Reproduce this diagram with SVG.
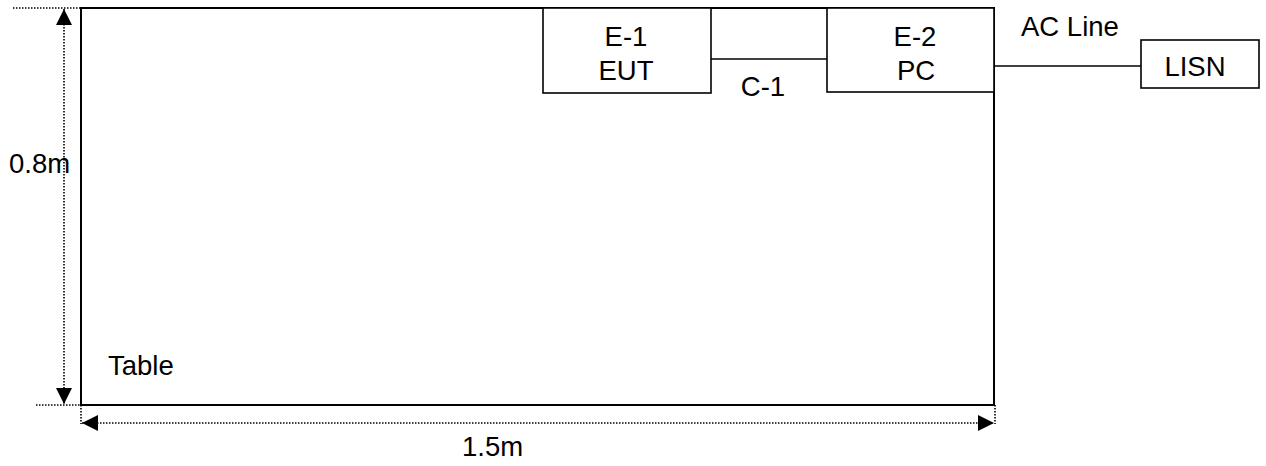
<svg xmlns="http://www.w3.org/2000/svg" width="1266" height="466" viewBox="0 0 1266 466">
<style>
text{font-family:"Liberation Sans",Arial,sans-serif;font-size:27.5px;fill:#000}
.box{fill:#fff;stroke:#000;stroke-width:1.6}
.tbl{fill:none;stroke:#000;stroke-width:2}
.wire{fill:none;stroke:#000;stroke-width:1.6}
.dot{fill:none;stroke:#000;stroke-width:1.6;stroke-dasharray:1.5 1.5}
</style>
<defs>
<marker id="ah" viewBox="0 0 16 16" refX="16" refY="8" markerWidth="16" markerHeight="16" markerUnits="userSpaceOnUse" orient="auto-start-reverse">
<path d="M0,0 L16,8 L0,16 Z" fill="#000"/>
</marker>
</defs>
<g id="table">
<rect class="tbl" x="81" y="8" width="913" height="397"/>
<text x="108" y="375">Table</text>
</g>
<g id="dimensions">
<line class="dot" x1="13" y1="8" x2="81" y2="8"/>
<line class="dot" x1="36" y1="405" x2="81" y2="405"/>
<line class="dot" x1="64" y1="9" x2="64" y2="404" marker-start="url(#ah)" marker-end="url(#ah)"/>
<line class="dot" x1="81" y1="405" x2="81" y2="424"/>
<line class="dot" x1="995" y1="405" x2="995" y2="424"/>
<line class="dot" x1="82" y1="423" x2="994" y2="423" marker-start="url(#ah)" marker-end="url(#ah)"/>
<text x="9" y="173">0.8m</text>
<text x="462" y="456">1.5m</text>
</g>
<g id="connectors">
<line class="wire" x1="711" y1="59" x2="827" y2="59"/>
<line class="wire" x1="994" y1="66" x2="1141" y2="66"/>
<text x="763" y="96" text-anchor="middle">C-1</text>
<text x="1021" y="36">AC Line</text>
</g>
<g id="e1">
<rect class="box" x="543" y="8" width="168" height="85"/>
<text x="626" y="46" text-anchor="middle">E-1</text>
<text x="626" y="80" text-anchor="middle">EUT</text>
</g>
<g id="e2">
<rect class="box" x="827" y="8" width="167" height="84"/>
<text x="915" y="46" text-anchor="middle">E-2</text>
<text x="916" y="80" text-anchor="middle">PC</text>
</g>
<g id="lisn">
<rect class="box" x="1141" y="40" width="118" height="48"/>
<text x="1195" y="76" text-anchor="middle">LISN</text>
</g>
</svg>
